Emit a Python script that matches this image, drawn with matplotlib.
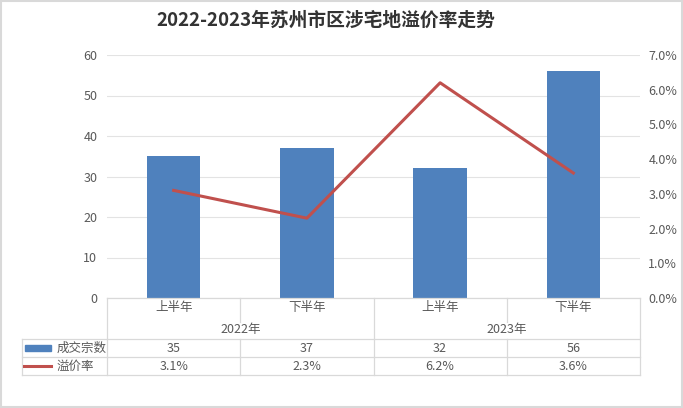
import matplotlib
matplotlib.use("Agg")
import matplotlib.pyplot as plt
import matplotlib.transforms as mtransforms
from matplotlib.lines import Line2D
from matplotlib.patches import Rectangle
from matplotlib.ticker import PercentFormatter

plt.rcParams['font.family'] = ['Noto Sans CJK SC', 'DejaVu Sans']

# data
halves = ['上半年', '下半年', '上半年', '下半年']
years = ['2022年', '2023年']
deals = [35, 37, 32, 56]
premium = [3.1, 2.3, 6.2, 3.6]
deal_name = '成交宗数'
prem_name = '溢价率'

W, H = 683, 408
fig = plt.figure(figsize=(W / 100, H / 100), dpi=100)

def fx(px):
    return px / W

def fy(py):
    return 1 - py / H

left, right, top, bottom = 107, 640, 55, 298
ax = fig.add_axes([fx(left), fy(bottom), fx(right - left), (bottom - top) / H])
ax2 = ax.twinx()

blue = '#4F81BD'
red = '#C0504D'
grid = '#D9D9D9'
txt = '#595959'

x = list(range(len(deals)))
ax.bar(x, deals, width=0.4, color=blue, zorder=2)
ax.set_xlim(-0.5, len(deals) - 0.5)
ax.set_ylim(0, 60)
ax.set_yticks(range(0, 61, 10))
ax.yaxis.grid(True, color='#E3E3E3', linewidth=0.8, zorder=0)
ax.set_axisbelow(True)
ax.set_xticks([])

ax2.plot(x, premium, color=red, linewidth=2.2, zorder=3)
ax2.set_ylim(0, 7)
ax2.set_yticks(range(0, 8))
ax2.yaxis.set_major_formatter(PercentFormatter(decimals=1))

for a in (ax, ax2):
    for s in a.spines.values():
        s.set_visible(False)
    a.tick_params(length=0, labelsize=9, colors=txt)
ax.tick_params(axis='y', pad=7)
ax2.tick_params(axis='y', pad=6)

fig.suptitle('2022-2023年苏州市区涉宅地溢价率走势', x=fx(326), y=fy(20),
             va='center', fontsize=13.5, fontweight='bold', color='#333333')

# data table under the plot
tr = mtransforms.blended_transform_factory(ax.transData, fig.transFigure)
tf = fig.transFigure
lw = 0.9
r_cat, r_year, r_s1, r_s2 = 298, 322, 339, 357
r_end = 375
tab_left = 22

def hline(x0, x1, py):
    fig.add_artist(Line2D([fx(x0), fx(x1)], [fy(py), fy(py)], transform=tf, color=grid, lw=lw))

def vline(xd, py0, py1):
    fig.add_artist(Line2D([xd, xd], [fy(py0), fy(py1)], transform=tr, color=grid, lw=lw))

hline(left, right, r_cat)
hline(tab_left, right, r_s1)
hline(tab_left, right, r_s2)
hline(tab_left, right, r_end)
fig.add_artist(Line2D([fx(tab_left)] * 2, [fy(r_s1), fy(r_end)], transform=tf, color=grid, lw=lw))

n = len(deals)
vline(-0.5, r_cat, r_end)
vline(n - 0.5, r_cat, r_end)
for i in range(1, n):
    if i % 2 == 0:
        vline(i - 0.5, r_cat, r_end)
    else:
        vline(i - 0.5, r_cat, r_year)
        vline(i - 0.5, r_s1, r_end)

fs = 9
for i, h in enumerate(halves):
    fig.text(i, fy(308), h, transform=tr, ha='center', va='center', fontsize=fs, color=txt)
for j, yname in enumerate(years):
    fig.text(2 * j + 0.5, fy(329), yname, transform=tr, ha='center', va='center', fontsize=fs, color=txt)
for i, (d, p) in enumerate(zip(deals, premium)):
    fig.text(i, fy(348), str(d), transform=tr, ha='center', va='center', fontsize=fs, color=txt)
    fig.text(i, fy(366), f'{p:.1f}%', transform=tr, ha='center', va='center', fontsize=fs, color=txt)

# legend keys in the table
fig.add_artist(Rectangle((fx(25), fy(351)), fx(26), 6 / H, transform=tf, color=blue))
fig.text(fx(57), fy(348), deal_name, ha='left', va='center', fontsize=fs, color=txt)
fig.add_artist(Line2D([fx(24), fx(51)], [fy(366), fy(366)], transform=tf, color=red, lw=2.2))
fig.text(fx(57), fy(366), prem_name, ha='left', va='center', fontsize=fs, color=txt)

# outer border
fig.add_artist(Rectangle((0.001, 0.002), 0.997, 0.996, transform=tf, fill=False, edgecolor=grid, lw=1.5))

fig.savefig('out.png', dpi=100)
